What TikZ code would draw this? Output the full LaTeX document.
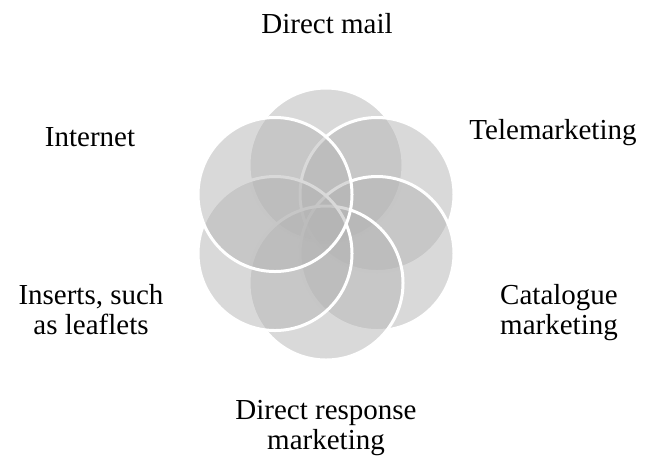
\documentclass[tikz,border=0pt]{standalone}
\usepackage{fontspec}
\setmainfont{Liberation Serif}
\usepackage{tikz}
\usetikzlibrary{calc}
\definecolor{petalgray}{RGB}{180,180,180}
\tikzset{
	petal/.style={fill=petalgray, fill opacity=.5, draw=white, draw opacity=1, line width=1.5pt},
	lbl/.style={align=center, inner sep=0pt, font=\fontsize{14.5}{15}\selectfont}
}
\newcommand{\petal}[1]{
	\path[petal] #1 circle[radius=38.5pt];
}

\begin{document}
\begin{tikzpicture}[x=.5pt, y=-.5pt]
	\useasboundingbox (0,0) rectangle (651,457);
	\coordinate (mid) at (326,224);
%
	\petal{($(mid)+(0,-59)$)}
	\petal{($(mid)+(51,-29.5)$)}
	\petal{($(mid)+(51,29.5)$)}
	\petal{($(mid)+(0,59)$)}
	\petal{($(mid)+(-51,29.5)$)}
	\petal{($(mid)+(-51,-29.5)$)}
%
	\node[lbl] (mail) at (327,24) {Direct mail};
	\node[lbl] (tele) at (553,133) {Telemarketing};
	\node[lbl] (cata) at (559,313) {Catalogue\\marketing};
	\node[lbl] (resp) at (326,428) {Direct response\\marketing};
	\node[lbl] (inse) at (91,310) {Inserts, such\\as leaflets};
	\node[lbl] (inet) at (90,137) {Internet};
%	\node at (mid) {};
\end{tikzpicture}
\end{document}
